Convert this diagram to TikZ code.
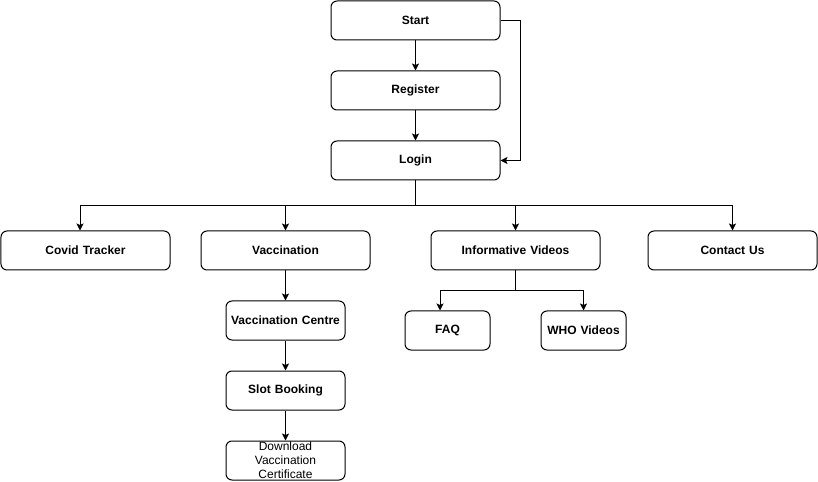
\documentclass[tikz,border=0pt]{standalone}
\usepackage{fontspec}
\setmainfont{Liberation Sans}
\usetikzlibrary{arrows.meta,calc}
\begin{document}
\begin{tikzpicture}[x=1bp,y=-1bp,
  box/.style={draw=black, line width=1bp, rounded corners=6bp, fill=white,
    minimum height=39bp, inner sep=1bp, align=center,
    font=\fontsize{12bp}{14bp}\selectfont\bfseries},
  wide/.style={box, minimum width=169bp, text width=165bp},
  mid/.style={box, minimum width=119bp, text width=115bp},
  small/.style={box, minimum width=85bp, text width=81bp},
  arr/.style={draw=black, line width=1bp, -{Stealth[length=7bp,width=7bp,inset=1.5bp]}}]
\useasboundingbox (0,0) rectangle (818,482);
\node[wide] (start)    at (415.5,20.5)  {Start};
\node[wide] (register) at (415.5,90.5)  {Register};
\node[wide] (login)    at (415.5,160.5) {Login};
\node[wide] (covid)    at (85.5,250.5)  {Covid Tracker};
\node[wide] (vacc)     at (285.5,250.5) {Vaccination};
\node[wide] (info)     at (515.5,250.5) {Informative Videos};
\node[wide] (contact)  at (732.5,250.5) {Contact Us};
\node[mid]  (vcentre)  at (285.5,320.5) {Vaccination Centre};
\node[mid]  (slot)     at (285.5,390.5) {Slot Booking};
\node[mid, font=\fontsize{12bp}{14bp}\selectfont] (download) at (285.5,460.5) {Download\\Vaccination\\Certificate};
\node[small] (faq)     at (447.5,330.5) {FAQ};
\node[small] (who)     at (583.5,330.5) {WHO Videos};

\coordinate (bus) at ($(login.south)+(0,25)$);
\coordinate (bus2) at ($(info.south)+(0,20)$);

\draw[arr] (start) -- (register);
\draw[arr] (register) -- (login);
\draw[arr] (start.east) -- ++(20,0) |- (login.east);
\draw[arr] (login.south) -- (bus) -| ([xshift=-5.5bp]covid.north);
\draw[arr] (bus) -| (vacc.north);
\draw[arr] (bus) -| (info.north);
\draw[arr] (bus) -| (contact.north);
\draw[arr] (vacc) -- (vcentre);
\draw[arr] (vcentre) -- (slot);
\draw[arr] (slot) -- (download);
\draw[arr] (info.south) -- (bus2) -| ([xshift=-7.5bp]faq.north);
\draw[arr] (bus2) -| (who.north);
\end{tikzpicture}
\end{document}
